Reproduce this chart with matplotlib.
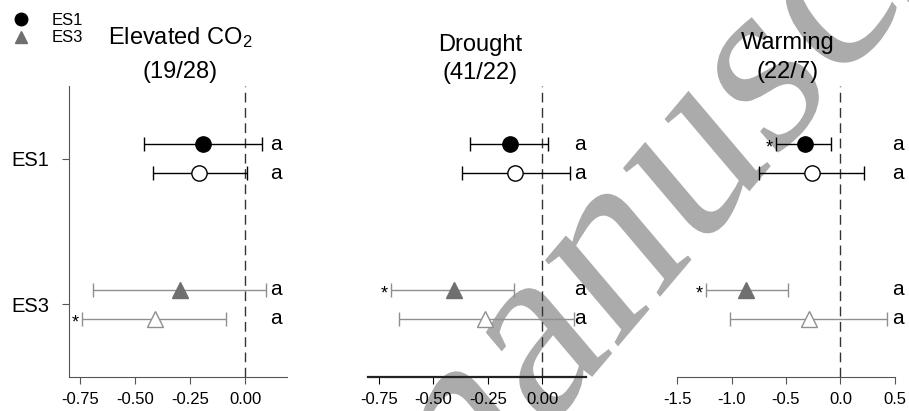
import matplotlib
matplotlib.use("Agg")
import matplotlib.pyplot as plt
from matplotlib.lines import Line2D
from matplotlib.textpath import TextPath
from matplotlib.patches import PathPatch
from matplotlib.font_manager import FontProperties
from matplotlib.transforms import Affine2D

plt.rcParams['font.family'] = ['Liberation Sans', 'DejaVu Sans']
plt.rcParams['mathtext.fontset'] = 'custom'
plt.rcParams['mathtext.rm'] = 'Liberation Sans'
plt.rcParams['mathtext.default'] = 'regular'
plt.rcParams['axes.unicode_minus'] = False

# effect sizes per treatment (mean with lower / upper CI)
treatments = ["Elevated CO$_2$", "Drought", "Warming"]
study_counts = ["(19/28)", "(41/22)", "(22/7)"]
groups = ["ES1", "ES3"]

es1_fill_mean = [-0.19, -0.15, -0.33]
es1_fill_lo = [-0.46, -0.33, -0.59]
es1_fill_hi = [0.075, 0.025, -0.09]
es1_open_mean = [-0.21, -0.125, -0.265]
es1_open_lo = [-0.42, -0.37, -0.745]
es1_open_hi = [0.01, 0.125, 0.215]

es3_fill_mean = [-0.295, -0.405, -0.865]
es3_fill_lo = [-0.69, -0.695, -1.23]
es3_fill_hi = [0.095, -0.13, -0.48]
es3_open_mean = [-0.41, -0.265, -0.29]
es3_open_lo = [-0.74, -0.66, -1.015]
es3_open_hi = [-0.085, 0.145, 0.43]

# significance stars and group letters
es1_fill_star = [False, False, True]
es1_open_star = [False, False, False]
es3_fill_star = [False, True, True]
es3_open_star = [True, False, False]
letters = ["a", "a", "a"]

xlims = [(-0.8, 0.19), (-0.8, 0.2), (-1.5, 0.5)]
xticks = [[-0.75, -0.5, -0.25, 0.0], [-0.75, -0.5, -0.25, 0.0], [-1.5, -1.0, -0.5, 0.0, 0.5]]
tick_fmt = ["{:.2f}", "{:.2f}", "{:.1f}"]
letter_x = [0.14, 0.17, 0.53]

GREY = '#8f8f8f'
DARK_GREY = '#6f6f6f'

fig = plt.figure(figsize=(9.09, 4.11), dpi=100)
W, H = 909, 411

ax_left = [69, 368, 677]
ax_top, ax_bottom, ax_w = 86, 377, 218

# watermark behind everything (45 deg, stretched vertically), in pixels
wm_path = TextPath((0, 0), "manuscript", size=225,
                   prop=FontProperties(family='Liberation Serif'))
wm_trans = Affine2D().rotate_deg(45).scale(1, 1.18).translate(420, -169)
wm = PathPatch(wm_path, transform=wm_trans, facecolor='#ababab', lw=0, zorder=-1)
fig.add_artist(wm)

series = [
    (es1_fill_mean, es1_fill_lo, es1_fill_hi, es1_fill_star, 1.1, 'o', 'black', 'black', 'black', 11),
    (es1_open_mean, es1_open_lo, es1_open_hi, es1_open_star, 0.9, 'o', 'white', 'black', 'black', 11),
    (es3_fill_mean, es3_fill_lo, es3_fill_hi, es3_fill_star, 0.1, '^', DARK_GREY, DARK_GREY, GREY, 12),
    (es3_open_mean, es3_open_lo, es3_open_hi, es3_open_star, -0.1, '^', 'white', GREY, GREY, 12),
]

for i in range(3):
    ax = fig.add_axes([ax_left[i] / W, 1 - ax_bottom / H, ax_w / W, (ax_bottom - ax_top) / H])
    ax.set_facecolor('none')
    ax.set_xlim(*xlims[i])
    ax.set_ylim(-0.5, 1.5)
    ax.axvline(0, color='#333333', lw=1, dashes=(7, 4), zorder=1)

    for mean, lo, hi, star, y, mk, fc, ec, bc, ms in series:
        m = mean[i]
        ax.errorbar([m], [y], xerr=[[m - lo[i]], [hi[i] - m]], fmt=mk, ms=ms,
                    mfc=fc, mec=ec, mew=1, ecolor=bc, elinewidth=1,
                    capsize=4.7, capthick=1, zorder=3)
        ax.text(letter_x[i], y, letters[i], fontsize=15, ha='center', va='center',
                clip_on=False)
        if star[i]:
            ax.annotate("*", (lo[i], y), xytext=(-5, -3), textcoords='offset points',
                        fontsize=13, ha='center', va='center')

    ax.set_xticks(xticks[i])
    ax.set_xticklabels([tick_fmt[i].format(v) for v in xticks[i]])
    ax.tick_params(axis='x', labelsize=12, length=5, pad=6)
    for s in ['top', 'right']:
        ax.spines[s].set_visible(False)

    if i == 0:
        ax.set_yticks([1, 0])
        ax.set_yticklabels(groups)
        ax.tick_params(axis='y', labelsize=14.5, length=5, pad=9, color='#555555')
        ax.spines['left'].set_color('#555555')
        ax.spines['bottom'].set_color('#555555')
        ax.tick_params(axis='x', color='#555555')
    else:
        ax.set_yticks([])
        ax.spines['left'].set_visible(False)
        if i == 1:
            ax.spines['bottom'].set_color('#222222')
            ax.spines['bottom'].set_linewidth(1.6)
        else:
            ax.spines['bottom'].set_color('#555555')
            ax.tick_params(axis='x', color='#555555')

# panel titles
title_x = [180, 480, 788]
title_y = [38, 45, 43]
count_y = [72, 73, 72]
for i in range(3):
    fig.text(title_x[i] / W, 1 - title_y[i] / H, treatments[i], fontsize=17,
             ha='center', va='center')
    fig.text(title_x[i] / W, 1 - count_y[i] / H, study_counts[i], fontsize=17,
             ha='center', va='center')

handles = [Line2D([], [], marker='o', color='black', linestyle='none', markersize=9),
           Line2D([], [], marker='^', color=DARK_GREY, linestyle='none', markersize=9)]
fig.legend(handles, groups, loc='upper left', bbox_to_anchor=(13 / W, 1 - 13 / H),
           frameon=False, fontsize=12, handlelength=1.0, handletextpad=1.3,
           labelspacing=0.15, borderpad=0, borderaxespad=0, numpoints=1)

fig.savefig("out.png", dpi=100)
